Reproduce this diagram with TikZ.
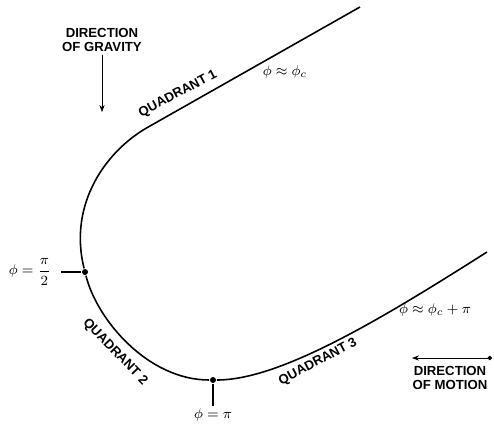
\documentclass[tikz,border=0pt]{standalone}
\usepackage{fontspec}
\setsansfont{Liberation Sans}
\usetikzlibrary{arrows.meta}
\tikzset{
	caps/.style={font=\sffamily\bfseries\fontsize{7.5}{8.3}\selectfont,align=center,inner sep=1pt},
	phase/.style={font=\footnotesize,inner sep=1pt},
	dot/.style={circle,fill,inner sep=0pt,minimum size=3.4pt}
}
\begin{document}
\begin{tikzpicture}[x=0.02cm,y=-0.02cm,line width=0.9pt]
	\useasboundingbox (0,0) rectangle (494,424);
	% the track
	\coordinate (top) at (360,7);
	\coordinate (bend) at (150,126);
	\coordinate (tail) at (487,252);
	\node[dot] (half) at (85,272) {};
	\node[dot] (pi) at (213,380) {};
	\draw (top) -- (bend) .. controls (106,150) and (68,204) .. (half)
		.. controls (97,320) and (148,380) .. (pi)
		.. controls (280,380) and (380,320) .. (tail);
	% quadrants
	\node[caps,rotate=28] (q1) at (178,94) {QUADRANT 1};
	\node[caps,rotate=-46] (q2) at (115,352) {QUADRANT 2};
	\node[caps,rotate=28] (q3) at (318,362) {QUADRANT 3};
	% phase values
	\node[phase] (phic) at (285,72) {$\phi\approx\phi_c$};
	\node[phase] (phicpi) at (435,310) {$\phi\approx\phi_c+\pi$};
	\node[phase] (halflbl) at (30,272) {$\displaystyle\phi=\frac{\pi}{2}$};
	\coordinate (halftick) at (61,272);
	\draw (half) -- (halftick);
	\node[phase] (pilbl) at (213,415) {$\phi=\pi$};
	\draw (pi) -- (pilbl.north);
	% directions
	\node[caps] (gravity) at (102,40) {DIRECTION\\OF GRAVITY};
	\coordinate (gravend) at (102,112);
	\draw[-{Stealth[length=4pt,width=3pt]},thin] (gravity.south) -- (gravend);
	\node[caps] (motion) at (450,378) {DIRECTION\\OF MOTION};
	\coordinate (mleft) at (412,358);
	\coordinate (mright) at (492,358);
	\draw[{Stealth[length=4pt,width=3pt]}-{Circle[length=2.5pt]},thin] (mleft) -- (mright);
\end{tikzpicture}
\end{document}
